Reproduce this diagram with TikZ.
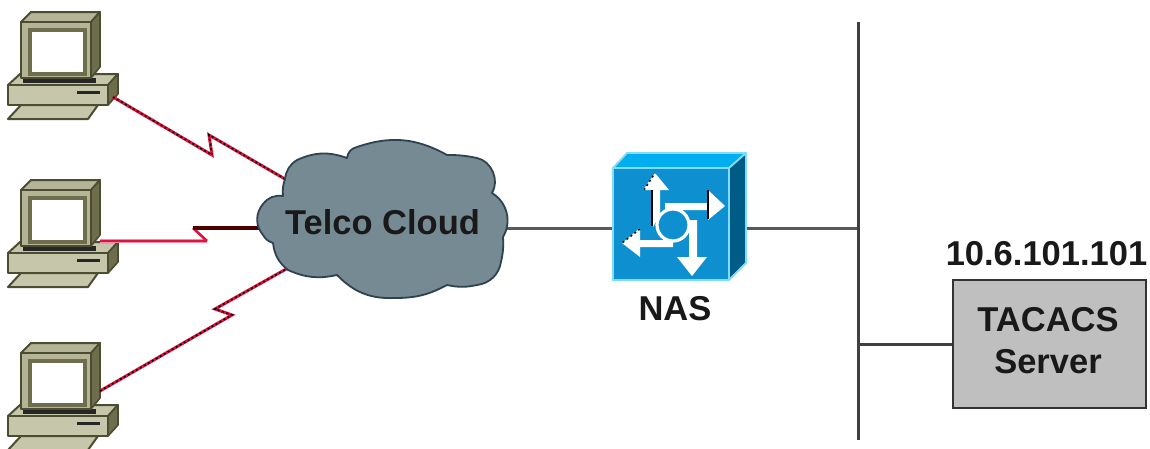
\documentclass[tikz,border=0pt]{standalone}
\usepackage{fontspec}
\setmainfont{Liberation Sans}
\definecolor{pcl}{HTML}{B4B496}
\definecolor{pcm}{HTML}{C6C6AA}
\definecolor{pcd}{HTML}{6E6E4C}
\definecolor{pce}{HTML}{4C4C32}
\definecolor{cloudf}{HTML}{768A94}
\definecolor{cloude}{HTML}{2E4250}
\definecolor{nasf}{HTML}{0E8FCF}
\definecolor{nast}{HTML}{00AEEF}
\definecolor{nass}{HTML}{005B86}
\definecolor{nase}{HTML}{7FDDFA}
\definecolor{linkr}{HTML}{E0123F}
\definecolor{linkp}{HTML}{F58CA5}
\tikzset{
  x=1pt,y=-1pt,
  pcface/.style={fill=pcl,draw=pce,line width=2pt,line join=round},
  pcbase/.style={fill=pcm,draw=pce,line width=2pt,line join=round},
  pcdark/.style={fill=pcd,draw=pce,line width=1.6pt,line join=round},
  pics/pccomputer/.style={code={
    \draw[pcbase] (8,85) -- (20,74) -- (118,74) -- (108,85) -- cycle;
    \draw[pcdark] (108,85) -- (118,74) -- (118,94) -- (108,105) -- cycle;
    \draw[pcbase] (8,85) rectangle (108,105);
    \draw[pcbase] (8,119) -- (21,105) -- (98,105) -- (88,119) -- cycle;
    \fill[black!85] (23,78) rectangle (96,83);
    \draw[pcface] (21,22) -- (31,12) -- (100,12) -- (91,22) -- cycle;
    \draw[pcdark] (91,22) -- (100,12) -- (100,67) -- (91,78) -- cycle;
    \draw[pcface] (21,22) rectangle (91,78);
    \draw[fill=white,draw=pcd,line width=3.4pt] (30,30) rectangle (85,74);
    \draw[black!85,line width=2.4pt] (77,92.5) -- (100,92.5);
  }},
  linkbase/.style={linkr,line width=3pt,line join=miter},
  linkdots/.style={black,line width=1.6pt,dash pattern=on 2pt off 2.6pt},
  wire/.style={draw=black!65,line width=3pt},
  busline/.style={draw=black!75,line width=3pt},
  serverbox/.style={draw=black!80,fill=black!25,line width=2.4pt,minimum width=193pt,minimum height=128pt,inner sep=0pt},
  label/.style={font=\fontsize{34.5}{38}\selectfont\bfseries,text=black!90,inner sep=0pt,align=center},
  nasarrow/.style={fill=white,draw=none},
  nasback/.style={draw=black,line width=1.5pt},
}
\begin{document}
\begin{tikzpicture}
\clip (0,0) rectangle (1150,448);
\fill[white] (0,0) rectangle (1150,448);

% named connector ends
\coordinate (pcA) at (113,97);
\coordinate (zA1) at (212,155);
\coordinate (zA2) at (209,135);
\coordinate (clA) at (285,179);
\coordinate (pcB) at (100,241);
\coordinate (zB1) at (207,241);
\coordinate (zB2) at (193,228);
\coordinate (clB) at (262,228);
\coordinate (pcC) at (100,391);
\coordinate (zC1) at (232,315);
\coordinate (zC2) at (215,309);
\coordinate (clC) at (288,268);
\coordinate (clE) at (500,228);
\coordinate (nasW) at (613,228);
\coordinate (nasE) at (746,228);
\coordinate (busT) at (858,22);
\coordinate (busB) at (858,440);
\coordinate (busN) at (858,228);
\coordinate (busS) at (858,344);

% computers
\pic at (0,0) {pccomputer};
\pic at (0,168) {pccomputer};
\pic at (0,331) {pccomputer};

% serial links
\draw[linkbase] (pcA) -- (zA1) -- (zA2) -- (clA);
\draw[linkdots] (pcA) -- (zA1) -- (zA2) -- (clA);
\draw[linkbase] (pcC) -- (zC1) -- (zC2) -- (clC);
\draw[linkdots] (pcC) -- (zC1) -- (zC2) -- (clC);
\draw[linkp,line width=4pt] (pcB) -- (zB1);
\draw[linkr,line width=2pt] (pcB) -- (zB1);
\draw[linkr,line width=2.6pt] (zB1) -- (zB2);
\draw[black!70!red,line width=3.6pt] (zB2) -- (clB);

% wires
\draw[wire] (clE) -- (nasW);
\draw[wire] (nasE) -- (busN);
\draw[busline] (busT) -- (busB);
\draw[busline] (busS) -- (953,344);

% cloud
\draw[fill=cloudf,draw=cloude,line width=1.8pt,line join=round]
  (285,179) to[bend right=12] (283,196)
  to[bend right=30] (263,204)
  to[bend right=40] (263,235)
  to[bend right=20] (273,243)
  to[bend right=22] (288,270)
  to[bend right=18] (337,275)
  to[bend right=24] (395,298)
  to[bend right=14] (447,285)
  to[bend right=12] (477,285)
  to[bend right=36] (501,262)
  to[bend right=8] (503,237)
  to[bend right=45] (492,193)
  to[bend right=55] (477,158)
  to[bend right=6] (447,155)
  to[bend right=24] (357,147)
  to[bend right=35] (347,158)
  to[bend right=22] (297,160)
  to[bend right=25] (285,179) -- cycle;
\node[label,anchor=center] (cloudtext) at (382.5,222) {Telco Cloud};

% NAS
\draw[fill=nast,draw=nase,line width=1.8pt,line join=round] (613,168) -- (627,153) -- (746,153) -- (729,168) -- cycle;
\draw[fill=nass,draw=nase,line width=1.8pt,line join=round] (729,168) -- (746,153) -- (746,263) -- (729,280) -- cycle;
\node[fill=nasf,draw=nase,line width=1.8pt,minimum width=116pt,minimum height=112pt,inner sep=0pt] (nas) at (671,224) {};
\fill[nasarrow] (653,227) -- (653,190) -- (643,190) -- (655,173) -- (669,190) -- (660,190) -- (660,215) -- cycle;
\fill[nasarrow] (665,203) -- (708,203) -- (708,190) -- (725,206) -- (708,220) -- (708,210) -- (665,210) -- cycle;
\fill[nasarrow] (673,240) -- (640,240) -- (640,228) -- (622,243) -- (640,257) -- (640,247) -- (673,247) -- cycle;
\fill[nasarrow] (689,220) -- (697,220) -- (697,257) -- (707,257) -- (692,276) -- (677,257) -- (689,257) -- cycle;
\draw[white,line width=3.2pt,fill=nasf] (673,225) circle[radius=16];
\draw[nasback] (652,190) -- (652,226);
\draw[nasback] (708,190) -- (708,219);
\draw[nasback,dash pattern=on 2pt off 3pt] (640,229) -- (622,243);
\draw[nasback,dash pattern=on 2pt off 3pt] (644,190) -- (655,173);
\node[label] (naslabel) at (675,309) {NAS};

% server
\node[label] (addr) at (1046.5,254) {10.6.101.101};
\node[serverbox] (server) at (1049.5,344) {};
\node[label] (srv1) at (1048,320) {TACACS};
\node[label] (srv2) at (1048,362) {Server};
\end{tikzpicture}
\end{document}
